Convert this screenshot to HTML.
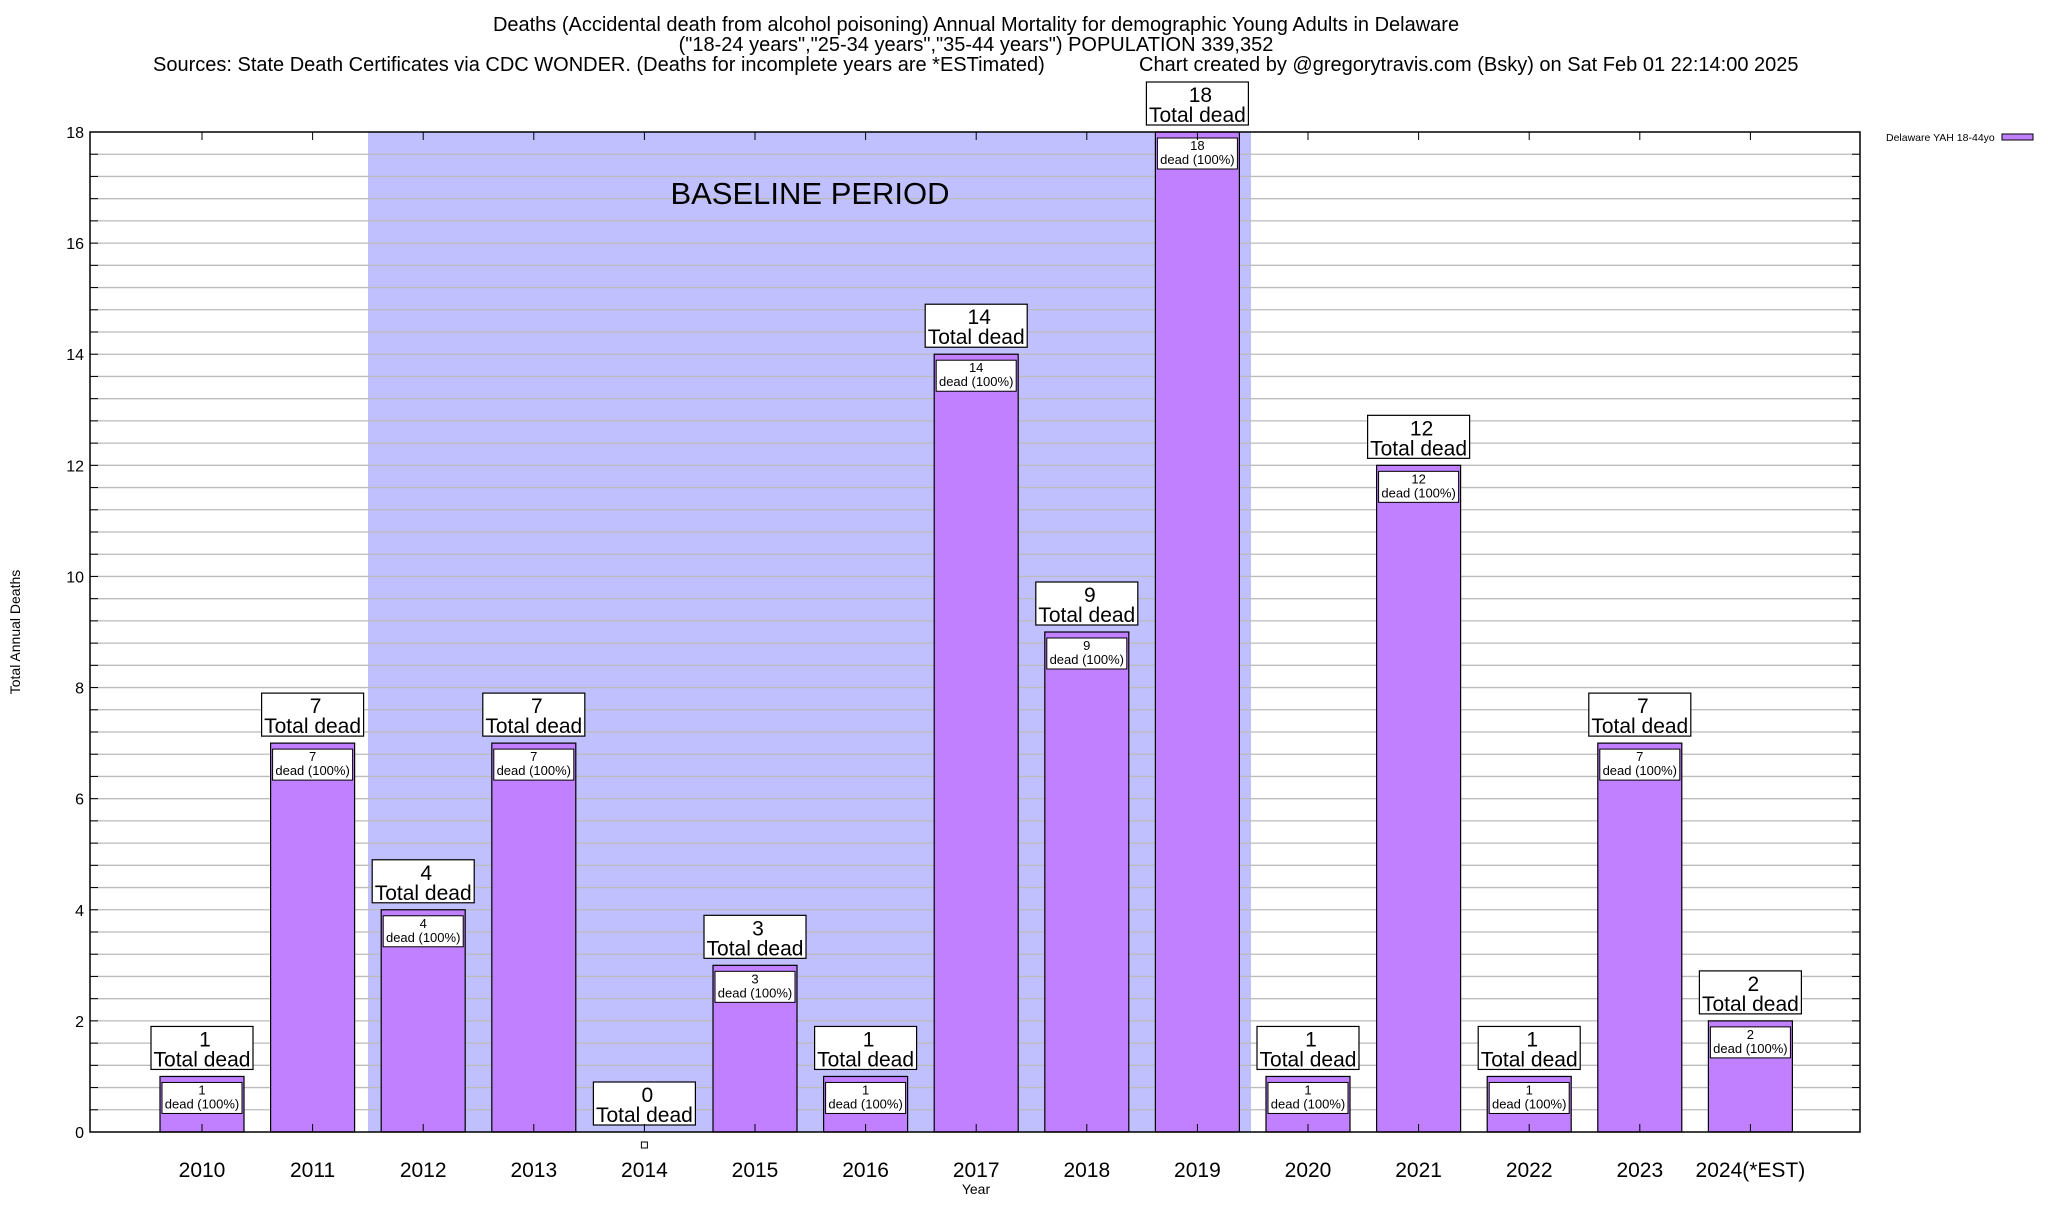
<!DOCTYPE html>
<html><head><meta charset="utf-8"><style>
body{margin:0;background:#fff;}
svg text{font-family:"Liberation Sans",Arial,sans-serif;}
</style></head><body>
<svg id="chart" width="2048" height="1200" xmlns="http://www.w3.org/2000/svg">
<g font-size="20" text-anchor="middle">
<text x="976" y="31">Deaths (Accidental death from alcohol poisoning) Annual Mortality for demographic Young Adults in Delaware</text>
<text x="976" y="51">("18-24 years","25-34 years","35-44 years") POPULATION 339,352</text>
<text x="153" y="71" text-anchor="start">Sources: State Death Certificates via CDC WONDER. (Deaths for incomplete years are *ESTimated)</text>
<text x="1139" y="71" text-anchor="start">Chart created by @gregorytravis.com (Bsky) on Sat Feb 01 22:14:00 2025</text>
</g>
<rect x="368" y="132" width="883" height="1000" fill="#c0c0ff"/>
<g id="grid"></g>
<text x="810" y="204" font-size="31" text-anchor="middle">BASELINE PERIOD</text>
<g id="bars"></g>
<rect x="90" y="132" width="1770" height="1000" fill="none" stroke="#000" stroke-width="1.5"/>
<g id="axes"></g>
<text transform="translate(20,632) rotate(-90)" font-size="14" text-anchor="middle">Total Annual Deaths</text>
<text x="976" y="1194" font-size="14" text-anchor="middle">Year</text>
<g>
<text x="1886" y="141" font-size="10.5">Delaware YAH 18-44yo</text>
<rect x="2002" y="134" width="31" height="6" fill="#c080ff" stroke="#000"/>
</g>
</svg>
<script>
const categories=["2010","2011","2012","2013","2014","2015","2016","2017","2018","2019","2020","2021","2022","2023","2024(*EST)"];
const deaths=[1,7,4,7,0,3,1,14,9,18,1,12,1,7,2];
const yTicks=[0,2,4,6,8,10,12,14,16,18];
const NS="http://www.w3.org/2000/svg";
const L=90,R=1860,T=132,B=1132,yMax=18;
function y(v){return B-(v/yMax)*(B-T);}
function x(i){return 202+i*110.6;}
function mk(tag,attrs,parent,txt){const e=document.createElementNS(NS,tag);for(const k in attrs)e.setAttribute(k,attrs[k]);if(txt!==undefined)e.textContent=txt;parent.appendChild(e);return e;}
const grid=document.getElementById('grid'),axes=document.getElementById('axes'),bars=document.getElementById('bars');
for(let v=0.4;v<yMax-0.01;v+=0.4){
 const gl=mk('line',{x1:L,x2:R,y1:y(v),y2:y(v),stroke:'#bbb','stroke-width':1.3},grid);
 
 
 const t1=mk('line',{x1:L,x2:L+8,y1:y(v),y2:y(v),stroke:'#000'},axes);
 
 
 const t2=mk('line',{x1:R-8,x2:R,y1:y(v),y2:y(v),stroke:'#000'},axes);
 
 
}
yTicks.forEach(v=>{
 const t=mk('text',{x:L-6,y:y(v)+6,'font-size':16,'text-anchor':'end'},axes,String(v));
 
 
});
categories.forEach((c,i)=>{
 const cx=x(i),v=deaths[i];
 const tb=mk('line',{x1:cx,x2:cx,y1:B,y2:B-8,stroke:'#000'},axes);
 
 
 const tt=mk('line',{x1:cx,x2:cx,y1:T,y2:T+8,stroke:'#000'},axes);
 
 
 const lab=mk('text',{x:cx,y:1177,'font-size':21,'text-anchor':'middle'},axes,c);
 
 
 const g=mk('g',{},bars);
 
 
 const top=y(v);
 if(v>0){
  const r=mk('rect',{x:cx-42,y:top,width:84,height:B-top,fill:'#c080ff',stroke:'#000','stroke-width':1.2},g);
  
  
  const ib=mk('rect',{x:cx-40,y:top+6,width:80,height:31,fill:'#fff',stroke:'#000','stroke-width':1},g);
  
  
  const i1=mk('text',{x:cx,y:top+18,'font-size':13,'text-anchor':'middle'},g,String(v));
  
  
  const i2=mk('text',{x:cx,y:top+32,'font-size':13,'text-anchor':'middle'},g,'dead (100%)');
  
  
 } else {
  const m=mk('rect',{x:cx-3,y:B+10,width:6,height:6,fill:'#fff',stroke:'#000'},g);
  
  
 }
 const bt=top-50;
 const ob=mk('rect',{x:cx-51,y:bt,width:102,height:43,fill:'#fff',stroke:'#000','stroke-width':1.2},g);
 
 
 const o1=mk('text',{x:cx+3,y:bt+20,'font-size':21,'text-anchor':'middle'},g,String(v));
 
 
 const o2=mk('text',{x:cx,y:bt+40,'font-size':21,'text-anchor':'middle'},g,'Total dead');
 
 
});
</script>
</body></html>
